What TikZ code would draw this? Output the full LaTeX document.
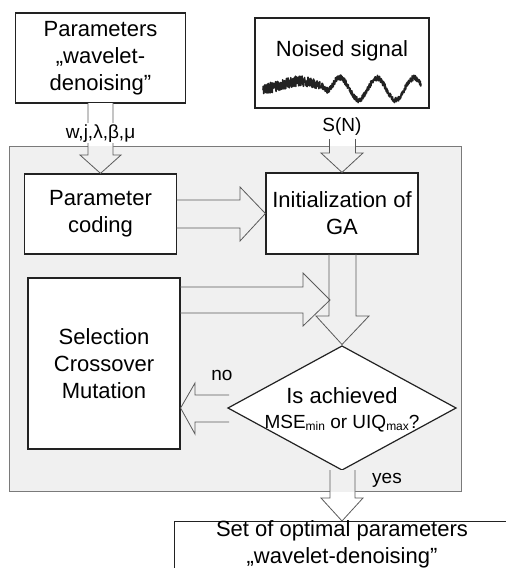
\documentclass[tikz,border=0pt]{standalone}
\usepackage{fontspec}
\setmainfont{Liberation Sans}
\usetikzlibrary{calc}
\definecolor{bgc}{HTML}{F0F0F0}
\definecolor{edgec}{HTML}{222222}
\definecolor{arrc}{HTML}{5A5A5A}
\definecolor{framec}{HTML}{7A7A7A}
\begin{document}
\begin{tikzpicture}[x=1pt,y=-1pt,
  box/.style={draw=edgec, line width=1.2pt, fill=white, inner sep=0pt},
  txt/.style={font=\fontsize{22}{27}\selectfont, align=center, text=black, inner sep=0pt},
  lbl/.style={font=\fontsize{19}{22}\selectfont, text=black, inner sep=0pt},
  blk/.style={draw=arrc, line width=0.8pt},
]
\useasboundingbox (0,0) rectangle (506,568);
\pgfmathsetseed{7}

% grey frame of the GA
\node[draw=framec, line width=1pt, fill=bgc, minimum width=452pt, minimum height=345pt, inner sep=0pt] (ga) at (235,318.5) {};

% boxes
\node[box, txt, minimum width=170pt, minimum height=90pt] (params) at (100.5,58) {Parameters\\„wavelet-\\denoising”};
\node[box, minimum width=174pt, minimum height=90pt] (signal) at (342,63) {};
\node[txt, anchor=base] (signalT) at (342,56) {Noised signal};
\node[box, txt, minimum width=152pt, minimum height=80pt] (coding) at (100.5,214) {Parameter\\coding};
\node[box, txt, minimum width=152pt, minimum height=81pt] (init) at (342,213.5) {Initialization of\\GA};
\node[box, txt, minimum width=152pt, minimum height=171pt] (sel) at (104,363.5) {Selection\\Crossover\\Mutation};

% noisy signal
\draw[edgec, line width=1.6pt, line join=round] plot[domain=263:421, samples=700]
  (\x, {89 - 8*exp(max(-8,-((\x-300)/22)^2)) - 11*min(1,max(0,(\x-322)/12))*cos(9.73*(\x-340)) + (2.8+2.4*min(1,max(0,(330-\x)/20)))*rand});

% diamond
\coordinate (dN) at (342,346);
\coordinate (dE) at (456,408);
\coordinate (dS) at (342,470);
\coordinate (dW) at (228,408);
\draw[box] (dN) -- (dE) -- (dS) -- (dW) -- cycle;
\node[txt, anchor=base] (dia1) at (342,403) {Is achieved};
\node[lbl, anchor=base] (dia2) at (342,428) {MSE\raisebox{-2.5pt}{\fontsize{12}{12}\selectfont min} or UIQ\raisebox{-2.5pt}{\fontsize{12}{12}\selectfont max}?};

% final box (runs beyond the page)
\node[box, minimum width=346pt, minimum height=80pt, anchor=north west] (final) at (174,521) {};
\node[txt] (finalT) at (342,544) {Set of optimal parameters\\„wavelet-denoising”};

% entry arrow from the parameters
\def\pathParams{(88,103) -- (88,155) -- (80,155) -- (coding.north) -- (121,155) -- (113,155) -- (113,103)}
\fill[white] \pathParams -- cycle;
\begin{scope}\clip (9,146) rectangle (461,491); \fill[bgc] \pathParams -- cycle; \end{scope}
\draw[blk] \pathParams;
\node[lbl, anchor=base, fill=white, inner ysep=1pt] (lblW) at (100.5,138) {w,j,λ,β,μ};

% entry arrow from the signal
\def\pathSignal{(329.5,139) -- (329.5,153) -- (321,153) -- (init.north) -- (363,153) -- (355.5,153) -- (355.5,139)}
\fill[white] \pathSignal -- cycle;
\begin{scope}\clip (9,146) rectangle (461,491); \fill[bgc] \pathSignal -- cycle; \end{scope}
\draw[blk] \pathSignal;
\node[lbl, anchor=base] (lblS) at (342,131.5) {S(N)};

% coding -> init
\draw[blk] (176.5,200) -- (240,200) -- (240,187) -- (init.west) -- (240,241) -- (240,228) -- (176.5,228);

% init -> diamond
\draw[blk] (329,254) -- (329,316) -- (316,316) -- (342,344.5) -- (369,316) -- (356,316) -- (356,254);

% selection -> merge
\coordinate (merge) at (330,300);
\draw[blk] (180,287) -- (303,287) -- (303,273) -- (merge) -- (303,326) -- (303,313) -- (180,313);

% no
\draw[blk] (229,395) -- (195,395) -- (195,383) -- (sel.east |- dW) -- (195,434) -- (195,422) -- (229,422);
\node[lbl, anchor=base] (lblNo) at (222,380) {no};

% yes
\def\pathYes{(330,470) -- (330,498) -- (321,498) -- (final.north -| dS) -- (363,498) -- (355,498) -- (355,470)}
\fill[white] \pathYes -- cycle;
\begin{scope}\clip (9,146) rectangle (461,491); \fill[bgc] \pathYes -- cycle; \end{scope}
\draw[blk] \pathYes;
\node[lbl, anchor=base] (lblYes) at (387,483) {yes};
\end{tikzpicture}
\end{document}
